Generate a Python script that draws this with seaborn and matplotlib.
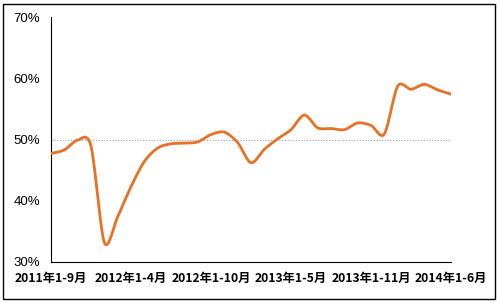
import numpy as np
import pandas as pd
import matplotlib
matplotlib.use("Agg")
import matplotlib.pyplot as plt
import seaborn as sns
from matplotlib.patches import Rectangle

periods = ["2011年1-9月", "2011年1-10月", "2011年1-11月", "2011年1-12月",
           "2012年1-2月", "2012年1-3月", "2012年1-4月", "2012年1-5月", "2012年1-6月",
           "2012年1-7月", "2012年1-8月", "2012年1-9月", "2012年1-10月", "2012年1-11月",
           "2012年1-12月", "2013年1-2月", "2013年1-3月", "2013年1-4月", "2013年1-5月",
           "2013年1-6月", "2013年1-7月", "2013年1-8月", "2013年1-9月", "2013年1-10月",
           "2013年1-11月", "2013年1-12月", "2014年1-2月", "2014年1-3月", "2014年1-4月",
           "2014年1-5月", "2014年1-6月"]
values = [47.7, 48.3, 49.9, 48.9, 33.2, 37.4, 42.3, 46.4, 48.6, 49.3, 49.4,
          49.6, 50.8, 51.2, 49.5, 46.2, 48.4, 50.1, 51.6, 54.0, 51.9,
          51.8, 51.6, 52.7, 52.3, 50.9, 58.7, 58.2, 59.0, 58.1, 57.4]
y_ticks = [30, 40, 50, 60, 70]
y_labels = ["30%", "40%", "50%", "60%", "70%"]

df = pd.DataFrame({"idx": np.arange(len(values)), "period": periods, "value": values})

# smooth rendering (cardinal spline through the data points, like Excel's smoothed line)
def cardinal(x, y, n=20, s=0.45):
    xs, ys = [], []
    px = np.concatenate([[2 * x[0] - x[1]], x, [2 * x[-1] - x[-2]]])
    py = np.concatenate([[2 * y[0] - y[1]], y, [2 * y[-1] - y[-2]]])
    t = np.linspace(0, 1, n, endpoint=False)
    h00 = 2 * t**3 - 3 * t**2 + 1
    h10 = t**3 - 2 * t**2 + t
    h01 = -2 * t**3 + 3 * t**2
    h11 = t**3 - t**2
    for i in range(1, len(px) - 2):
        for arr, out in ((px, xs), (py, ys)):
            m1 = s * (arr[i + 1] - arr[i - 1])
            m2 = s * (arr[i + 2] - arr[i])
            out.append(h00 * arr[i] + h10 * m1 + h01 * arr[i + 1] + h11 * m2)
    xs.append([x[-1]]); ys.append([y[-1]])
    return np.concatenate(xs), np.concatenate(ys)

sx, sy = cardinal(df["idx"].to_numpy(dtype=float), df["value"].to_numpy(dtype=float))
smooth = pd.DataFrame({"x": sx, "y": sy})

sns.set_theme(style="white")
plt.rcParams['font.family'] = ['Liberation Sans', 'Noto Sans CJK SC', 'DejaVu Sans']

fig = plt.figure(figsize=(4.99, 3.03), dpi=100)
ax = fig.add_axes([51 / 499, 1 - 262 / 303, 400 / 499, 245 / 303])

ax.axhline(50, color="#a0a0a0", lw=0.8, ls=(0, (1, 1.5)), zorder=1)
sns.lineplot(data=smooth, x="x", y="y", ax=ax, color="#EA7023", lw=2.0, sort=False,
             estimator=None, zorder=3)

ax.set_xlim(0, 30)
ax.set_ylim(30, 70)
ax.set_yticks(y_ticks)
ax.set_yticklabels(y_labels, fontsize=9.5, color="black")
xt = list(range(0, 31, 3))
ax.set_xticks(xt)
ax.set_xticklabels([periods[i] if i % 6 == 0 else "" for i in xt],
                   fontsize=8.8, fontweight="bold", family=['Noto Sans CJK SC', 'DejaVu Sans'])
ax.tick_params(axis="both", direction="in", length=3, width=0.8, colors="black")
ax.tick_params(axis="y", pad=8)
ax.tick_params(axis="x", pad=7)
ax.set_xlabel("")
ax.set_ylabel("")
for s in ["top", "right"]:
    ax.spines[s].set_visible(False)
for s in ["left", "bottom"]:
    ax.spines[s].set_color("black")
    ax.spines[s].set_linewidth(0.8)

fig.patches.append(Rectangle((3 / 499, 4 / 303), 492 / 499, 295 / 303, transform=fig.transFigure,
                             fill=False, edgecolor="black", lw=1.0))

fig.savefig("out.png", dpi=100)
